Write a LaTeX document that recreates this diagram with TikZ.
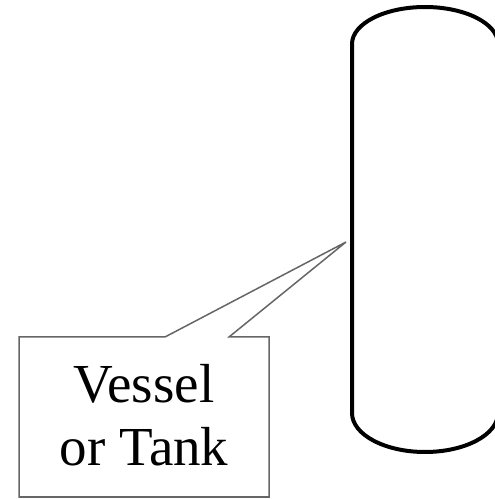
\documentclass[tikz,border=0pt]{standalone}
\usepackage{fontspec}
\setmainfont{Liberation Serif}
\begin{document}
\begin{tikzpicture}[x=1pt,y=1pt,
  vessel/.style={line width=4pt, draw=black, line join=round},
  calloutbox/.style={line width=1.5pt, draw=black!60, line join=miter},
  labeltext/.style={align=center, inner sep=0pt, font=\fontsize{55}{63}\selectfont, text=black}]
\useasboundingbox (0,0) rectangle (495,499);
\clip (0,0) rectangle (495,499);
% vessel
\draw[vessel] (352,455) -- (352,86)
  arc[start angle=180, end angle=360, x radius=73, y radius=39]
  -- (498,455)
  arc[start angle=0, end angle=180, x radius=73, y radius=37] -- cycle;
\coordinate (tip) at (346,257);
% callout
\draw[calloutbox] (19,2) -- (19,162) -- (165,162) -- (tip) -- (229,162) -- (269,162) -- (269,2) -- cycle;
\node[labeltext, anchor=base] (label) at (144,34) {Vessel\\or Tank};
\end{tikzpicture}
\end{document}
